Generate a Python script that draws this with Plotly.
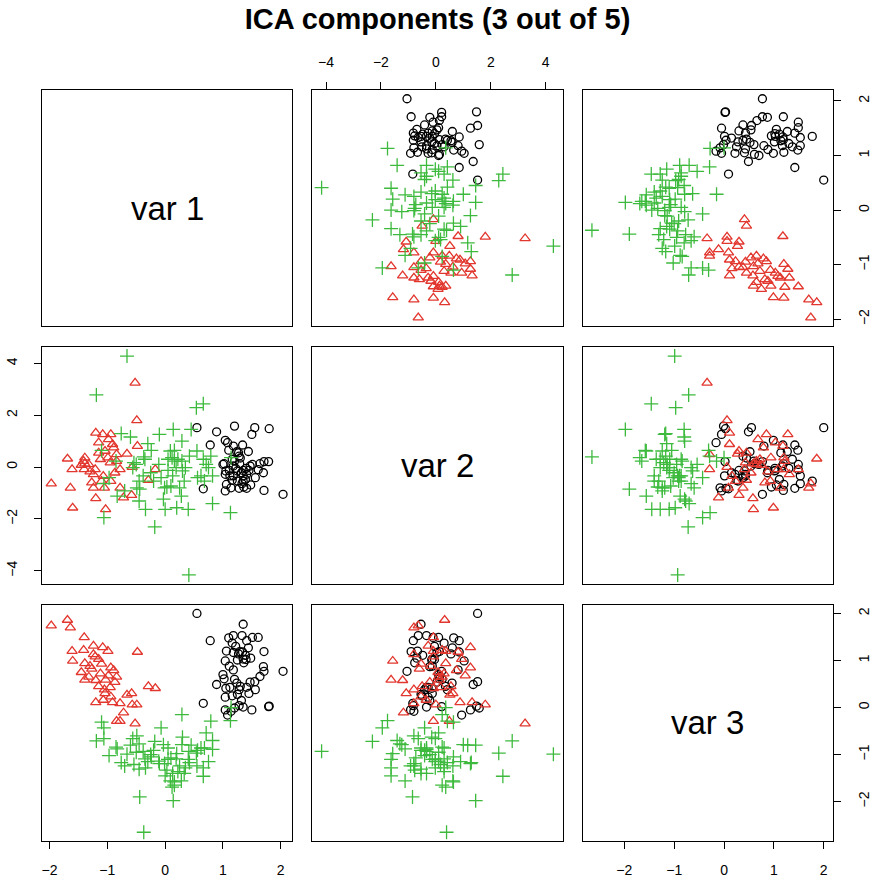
import numpy as np
import plotly.graph_objects as go
from plotly.subplots import make_subplots

# ---------------- data ----------------
# Each group: (var1, var3) pairs,
# (var1, var2) pairs, plus a few
# outlying points whose three coordinates were matched across panels.

black_a_v1 = [0.55, 1.35, 0.78, 1.18, 1.33, 1.51, 1.61, 1.16, 1.41, 1.44, 1.18, 1.29, 1.71, 1.39, 1.04,
              1.25, 1.35, 1.11, 1.70, 2.04, 1.71, 1.64, 1.02, 0.89, 1.24, 1.47, 1.05, 1.12, 1.28, 1.41,
              1.56, 1.04, 1.16, 0.66, 1.04, 1.20, 1.28, 1.35, 1.50, 1.79, 1.80, 1.14, 1.34, 1.40, 1.27,
              1.08, 1.22, 1.30, 1.20, 1.45, 1.25, 1.36, 1.10, 1.55, 1.00, 1.32, 1.18, 1.48, 1.06]
black_a_v3 = [2.00, 1.77, 1.42, 1.53, 1.53, 1.49, 1.49, 1.37, 1.42, 1.27, 1.17, 1.19, 1.19, 1.11, 0.99,
              1.01, 1.03, 0.88, 0.87, 0.77, 0.77, 0.66, 0.61, 0.49, 0.52, 0.54, 0.41, 0.43, 0.38, 0.43,
              0.38, 0.22, 0.25, 0.09, -0.05, -0.01, 0.04, 0.01, -0.05, 0.02, 0.03, -0.08, 1.18, 1.02, 1.14,
              -0.16, 1.30, 0.45, 0.60, 0.30, 0.28, 0.95, 1.48, 0.55, 0.70, 0.15, 0.80, 1.05, 1.20]
black_b_v1 = [0.54, 0.90, 1.18, 1.54, 1.81, 1.51, 0.78, 1.04, 1.06, 1.17, 1.33, 1.25, 1.27, 1.02, 1.16,
              1.28, 1.47, 1.63, 1.73, 1.81, 1.66, 1.11, 1.04, 1.17, 1.31, 1.35, 1.40, 1.43, 1.25, 1.14,
              1.05, 1.04, 1.12, 1.28, 1.39, 1.41, 1.50, 1.72, 2.03, 0.65, 1.22, 1.34, 1.37, 1.20, 1.51,
              1.11, 1.31, 1.45, 0.98, 1.22, 1.57, 1.40, 1.25, 1.05, 1.15, 1.30, 1.45, 1.10, 1.60]
black_b_v2 = [1.52, 1.36, 1.58, 1.52, 1.48, 1.26, 0.85, 1.03, 0.94, 0.81, 0.85, 0.55, 0.42, 0.13, 0.04,
              0.13, 0.04, 0.13, 0.21, 0.21, -0.22, -0.13, -0.28, -0.34, -0.22, -0.13, -0.05, -0.28, -0.54, -0.51,
              -0.67, -0.92, -0.80, -0.82, -0.77, -0.82, -0.69, -0.90, -1.05, -0.84, -0.05, -0.34, -0.54, 0.23, 0.10,
              -0.34, -0.64, -0.13, 0.10, 0.59, -0.41, -0.48, -0.15, -0.15, 0.30, 0.35, 0.60, 0.65, -0.10]
black_fix_v1 = []
black_fix_v2 = []
black_fix_v3 = []

red_a_v1 = [-1.97, -1.69, -1.64, -1.40, -1.61, -1.41, -1.60, -1.24, -1.08, -0.99, -1.21, -1.15, -1.39, -1.27,
            -1.10, -1.45, -1.39, -1.20, -0.94, -0.89, -0.98, -0.84, -1.03, -1.15, -1.05, -0.87, -0.48, -0.29,
            -0.17, -1.04, -1.20, -1.07, -0.94, -0.91, -0.78, -0.66, -0.58, -0.57, -0.72, -0.84, -0.78, -1.12,
            -1.32, -1.24, -0.95, -1.30]
red_a_v3 = [1.74, 1.86, 1.70, 1.49, 1.20, 1.22, 0.99, 1.31, 1.28, 1.20, 1.08, 1.03, 0.94, 0.82,
            0.93, 0.75, 0.59, 0.58, 0.85, 0.79, 0.68, 0.65, 0.59, 0.45, 0.38, 0.54, 1.18, 0.45,
            0.41, 0.30, 0.11, 0.16, 0.23, 0.11, 0.09, 0.27, 0.30, 0.06, -0.11, -0.29, -0.29, 0.72,
            0.65, 1.13, 0.43, 0.88]
red_b_v1 = [-1.96, -1.69, -1.62, -1.63, -1.45, -1.42, -1.36, -1.39, -1.27, -1.25, -1.17, -1.04, -0.92, -0.98,
            -1.13, -1.14, -1.04, -0.92, -1.10, -1.01, -0.96, -0.89, -0.84, -0.67, -0.79, -1.04, -0.96, -1.27,
            -1.25, -1.04, -0.84, -1.16, -1.03, -0.72, -0.58, -0.49, -0.57, -0.30, -0.17, -1.30, -1.21, -0.92,
            -1.07, -1.36, -0.90, -1.42]
red_b_v2 = [-0.64, 0.32, -0.09, -0.80, -1.57, 0.08, 0.13, -0.09, -0.18, -0.28, 1.32, 1.26, 1.26, 1.07,
            0.94, 0.55, 0.62, 0.75, 0.30, 0.36, 0.17, 0.23, 0.49, 0.51, -0.09, -0.35, -0.54, -0.60,
            -0.80, -0.80, -0.80, -1.21, -1.63, -1.18, -1.08, 0.81, 0.00, -0.50, -0.09, 0.10, -0.09, 0.88,
            -0.54, 0.36, -0.22, 0.23]
red_fix_v1 = [-0.52, -0.49]
red_fix_v2 = [3.25, 1.80]
red_fix_v3 = [-0.34, 0.06]

green_a_v1 = [-1.10, -1.06, -0.85, -0.83, -0.97, -0.76, -0.70, -0.56, -0.49, -0.45, -0.54, -0.45, -0.38, -0.35,
              -0.34, -0.20, -0.07, -0.24, -0.11, -0.03, 0.05, -0.01, 0.03, 0.10, 0.19, 0.13, 0.22, 0.09,
              0.16, 0.12, 0.16, 0.28, 0.30, 0.29, 0.29, 0.42, 0.56, 0.55, 0.66, 0.71, 0.79, 0.82,
              0.75, 0.68, 0.82, -0.10, 0.25, 0.35, 0.62, -0.25, 0.05, 0.20, 0.40, -0.50, 0.00, 0.33,
              -0.60, 0.45, -0.30]
green_a_v3 = [-0.31, -0.66, -0.84, -0.88, -1.02, -1.17, -1.24, -0.66, -0.60, -0.77, -1.21, -1.31, -0.93, -1.09,
              -1.28, -0.91, -0.43, -1.05, -1.14, -0.79, -0.86, -1.19, -1.33, -1.07, -1.09, -1.40, -1.36, -1.56,
              -1.58, -1.69, -1.65, -1.56, -0.63, -0.79, -0.15, -1.17, -0.91, -1.24, -1.28, -0.54, -0.29, -0.70,
              -1.15, -0.86, -0.89, -1.19, -1.24, -1.28, -0.86, -1.00, -1.10, -0.98, -1.10, -0.95, -1.45, -1.40,
              -0.80, -0.80, -1.15]
green_b_v1 = [-0.81, -0.76, -1.10, -0.84, -0.20, 0.29, 0.51, -0.38, -0.34, -0.47, -0.56, -0.64, -0.03, 0.08,
              0.13, 0.10, 0.16, 0.03, 0.31, 0.45, 0.65, 0.78, 0.71, 0.82, 0.55, 0.65, 0.31, 0.12,
              -0.50, -0.35, -0.30, -0.50, -0.53, -0.84, -0.99, -0.38, -0.14, -0.05, 0.22, 0.36, 0.28, 0.08,
              -0.04, 0.31, 0.81, 0.70, 0.54, 0.22, -0.79, -1.04, -0.54, -0.18, -0.10, 0.25, 0.65, -0.70,
              -0.27, 0.16, 0.36]
green_b_v2 = [1.29, 1.16, 0.64, 0.23, 1.26, 1.00, 1.45, 0.90, 0.64, 0.30, 0.10, 0.17, 0.30, 0.62,
              0.64, 0.36, 0.23, -0.13, 0.23, 0.42, 0.30, 0.42, -0.02, -0.34, -0.41, -0.54, -0.15, -0.34,
              -0.34, -0.22, -0.54, -0.54, -1.31, -1.12, -0.41, -1.63, -1.24, -1.63, -1.57, -1.63, -1.12, -0.73,
              -0.77, -0.54, -1.41, 0.10, 0.62, 0.30, -0.92, -0.64, -0.80, -0.41, -0.80, -0.80, -0.34, -0.02,
              0.10, -0.02, -0.02]
green_fix_v1 = [-0.66, 0.41, -0.37, -1.19, 0.54, 0.66, -0.18, 0.14, -0.44, -1.06, 1.13, 1.14]
green_fix_v2 = [4.28, -4.16, 0.39, 2.78, 2.29, 2.44, -2.31, 1.45, -0.85, -1.95, -1.76, 0.36]
green_fix_v3 = [-0.99, -0.93, -2.65, -0.71, -0.97, -1.46, -0.72, -1.98, -1.90, -0.43, -0.28, 0.00]

var_names = ["var 1", "var 2", "var 3"]
title_text = "ICA components (3 out of 5)"
ticks_row = [[-2, -1, 0, 1, 2], [-4, -2, 0, 2, 4], [-2, -1, 0, 1, 2]]


def assemble(a_v1, a_v3, b_v1, b_v2, f1, f2, f3):
    """Pair the two panel readings by var1 rank, then add matched outliers."""
    a_v1 = np.asarray(a_v1); a_v3 = np.asarray(a_v3)
    b_v1 = np.asarray(b_v1); b_v2 = np.asarray(b_v2)
    ia = np.argsort(a_v1); ib = np.argsort(b_v1)
    n = min(len(ia), len(ib))
    v1 = np.concatenate([a_v1[ia][:n], f1])
    v2 = np.concatenate([b_v2[ib][:n], f2])
    v3 = np.concatenate([a_v3[ia][:n], f3])
    return [v1, v2, v3]


groups = [
    dict(data=assemble(black_a_v1, black_a_v3, black_b_v1, black_b_v2, black_fix_v1, black_fix_v2, black_fix_v3),
         symbol="circle-open", size=8, color="#000000"),
    dict(data=assemble(red_a_v1, red_a_v3, red_b_v1, red_b_v2, red_fix_v1, red_fix_v2, red_fix_v3),
         symbol="triangle-up-open", size=9, color="#E2372E"),
    dict(data=assemble(green_a_v1, green_a_v3, green_b_v1, green_b_v2, green_fix_v1, green_fix_v2, green_fix_v3),
         symbol="cross-thin-open", size=10, color="#3DBA3D"),
]

# axis ranges: data range extended by 4% on each side (R default)
ranges = []
for k in range(3):
    allv = np.concatenate([g["data"][k] for g in groups])
    lo, hi = allv.min(), allv.max()
    pad = 0.04 * (hi - lo)
    ranges.append([lo - pad, hi + pad])

W, H = 872, 883
ml, mr, mt, mb = 42, 39, 90, 42
fig = make_subplots(rows=3, cols=3,
                    horizontal_spacing=20 / (W - ml - mr),
                    vertical_spacing=21 / (H - mt - mb))

font_family = "Liberation Sans, Arial, Helvetica, sans-serif"

for r in range(3):
    for c in range(3):
        if r == c:
            # invisible placeholder so the diagonal panel keeps its box and axes
            fig.add_trace(go.Scatter(x=[np.mean(ranges[c])], y=[np.mean(ranges[r])], mode="markers",
                                     marker=dict(opacity=0), showlegend=False, hoverinfo="skip"),
                          row=r + 1, col=c + 1)
            continue
        for g in groups:
            fig.add_trace(go.Scatter(
                x=g["data"][c], y=g["data"][r], mode="markers",
                marker=dict(symbol=g["symbol"], size=g["size"], color=g["color"],
                            line=dict(width=1.3, color=g["color"])),
                showlegend=False, hoverinfo="skip"), row=r + 1, col=c + 1)

# which panels carry tick labels (R pairs style)
x_tick_side = {(2, 0): "bottom", (0, 1): "top", (2, 2): "bottom"}
y_tick_side = {(0, 2): "right", (1, 0): "left", (2, 2): "right"}

for r in range(3):
    for c in range(3):
        xs = x_tick_side.get((r, c))
        ys = y_tick_side.get((r, c))
        fig.update_xaxes(range=ranges[c], showgrid=False, zeroline=False, automargin=False,
                         showline=True, linecolor="black", linewidth=1, mirror=True,
                         ticks="outside" if xs else "", ticklen=7, tickwidth=1, tickcolor="black",
                         side=xs if xs else "bottom", showticklabels=bool(xs),
                         tickmode="array", tickvals=ticks_row[c],
                         ticktext=[str(v).replace("-", "\u2212") for v in ticks_row[c]],
                         tickfont=dict(family=font_family, size=14, color="black"),
                         ticklabelstandoff=9,
                         row=r + 1, col=c + 1)
        fig.update_yaxes(range=ranges[r], showgrid=False, zeroline=False, automargin=False,
                         showline=True, linecolor="black", linewidth=1, mirror=True,
                         ticks="outside" if ys else "", ticklen=7, tickwidth=1, tickcolor="black",
                         side=ys if ys else "left", showticklabels=bool(ys),
                         tickmode="array", tickvals=ticks_row[r],
                         ticktext=[str(v).replace("-", "\u2212") for v in ticks_row[r]],
                         tickangle=-90,
                         tickfont=dict(family=font_family, size=14, color="black"),
                         ticklabelstandoff=11,
                         row=r + 1, col=c + 1)

for k in range(3):
    idx = k * 3 + k + 1
    ax = "" if idx == 1 else str(idx)
    fig.add_annotation(text=var_names[k], xref=f"x{ax} domain", yref=f"y{ax} domain",
                       x=0.5, y=0.5, showarrow=False,
                       font=dict(family=font_family, size=33, color="black"))

fig.update_layout(
    width=W, height=H,
    margin=dict(l=ml, r=mr, t=mt, b=mb, autoexpand=False),
    paper_bgcolor="white", plot_bgcolor="white",
    title=dict(text=f"<b>{title_text}</b>", x=0.5, xref="paper", xanchor="center",
               y=1 - 19 / H, yref="container", yanchor="middle",
               font=dict(family=font_family, size=29, color="black")),
)

fig.write_html("out.html")
